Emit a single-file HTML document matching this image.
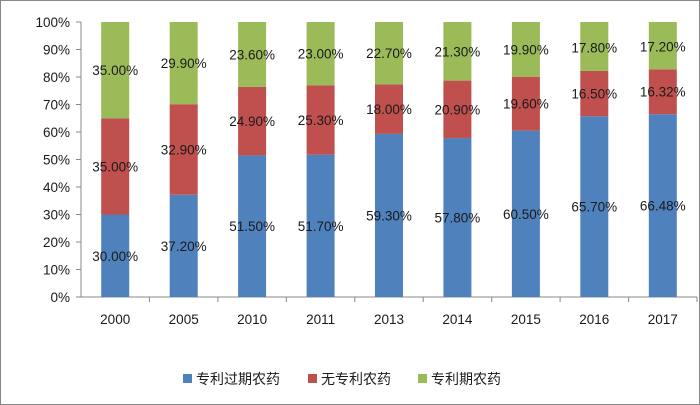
<!DOCTYPE html><html><head><meta charset="utf-8"><style>body{margin:0}svg{display:block}text{font-family:"Liberation Sans","Noto Sans CJK SC",sans-serif;fill:#1a1a1a;font-size:13.5px}</style></head><body>
<svg width="700" height="405" xmlns="http://www.w3.org/2000/svg">
<rect x="0.5" y="0.5" width="699" height="404" fill="#fff" stroke="#888"/>
<g stroke="#888">
<line x1="81" x2="81" y1="22" y2="297"/><line x1="81" x2="697" y1="297" y2="297"/>
<line x1="76" x2="81" y1="297" y2="297"/><line x1="76" x2="81" y1="269.5" y2="269.5"/><line x1="76" x2="81" y1="242" y2="242"/><line x1="76" x2="81" y1="214.5" y2="214.5"/><line x1="76" x2="81" y1="187" y2="187"/><line x1="76" x2="81" y1="159.5" y2="159.5"/><line x1="76" x2="81" y1="132" y2="132"/><line x1="76" x2="81" y1="104.5" y2="104.5"/><line x1="76" x2="81" y1="77" y2="77"/><line x1="76" x2="81" y1="49.5" y2="49.5"/><line x1="76" x2="81" y1="22" y2="22"/>
<line x1="149.4" x2="149.4" y1="297" y2="302"/><line x1="217.9" x2="217.9" y1="297" y2="302"/><line x1="286.3" x2="286.3" y1="297" y2="302"/><line x1="354.8" x2="354.8" y1="297" y2="302"/><line x1="423.2" x2="423.2" y1="297" y2="302"/><line x1="491.7" x2="491.7" y1="297" y2="302"/><line x1="560.1" x2="560.1" y1="297" y2="302"/><line x1="628.6" x2="628.6" y1="297" y2="302"/><line x1="697" x2="697" y1="297" y2="302"/>
</g>
<g text-anchor="end">
<text x="70" y="302">0%</text><text x="70" y="274.5">10%</text><text x="70" y="247">20%</text><text x="70" y="219.5">30%</text><text x="70" y="192">40%</text><text x="70" y="164.5">50%</text><text x="70" y="137">60%</text><text x="70" y="109.5">70%</text><text x="70" y="82">80%</text><text x="70" y="54.5">90%</text><text x="70" y="27">100%</text>
</g>
<g fill="#4F81BD">
<rect x="101.2" y="214.5" width="28" height="82.5"/><rect x="169.7" y="194.7" width="28" height="102.3"/><rect x="238.1" y="155.4" width="28" height="141.6"/><rect x="306.6" y="154.8" width="28" height="142.2"/><rect x="375" y="133.9" width="28" height="163.1"/><rect x="443.4" y="138.05" width="28" height="158.95"/><rect x="511.9" y="130.6" width="28" height="166.4"/><rect x="580.3" y="116.3" width="28" height="180.7"/><rect x="648.8" y="114.2" width="28" height="182.8"/>
</g>
<g fill="#C0504D">
<rect x="101.2" y="118.25" width="28" height="96.25"/><rect x="169.7" y="104.2" width="28" height="90.5"/><rect x="238.1" y="86.9" width="28" height="68.5"/><rect x="306.6" y="85.25" width="28" height="69.55"/><rect x="375" y="84.4" width="28" height="49.5"/><rect x="443.4" y="80.6" width="28" height="57.45"/><rect x="511.9" y="76.7" width="28" height="53.9"/><rect x="580.3" y="70.95" width="28" height="45.35"/><rect x="648.8" y="69.3" width="28" height="44.9"/>
</g>
<g fill="#9BBB59">
<rect x="101.2" y="22" width="28" height="96.25"/><rect x="169.7" y="22" width="28" height="82.2"/><rect x="238.1" y="22" width="28" height="64.9"/><rect x="306.6" y="22" width="28" height="63.25"/><rect x="375" y="22" width="28" height="62.4"/><rect x="443.4" y="22" width="28" height="58.6"/><rect x="511.9" y="22" width="28" height="54.7"/><rect x="580.3" y="22" width="28" height="48.95"/><rect x="648.8" y="22" width="28" height="47.3"/>
</g>
<g text-anchor="middle">
<text x="115.2" y="261">30.00%</text><text x="115.2" y="171.4">35.00%</text><text x="115.2" y="75">35.00%</text>
<text x="183.7" y="250.9">37.20%</text><text x="183.7" y="154.5">32.90%</text><text x="183.7" y="68">29.90%</text>
<text x="252.1" y="231.2">51.50%</text><text x="252.1" y="126.1">24.90%</text><text x="252.1" y="59.5">23.60%</text>
<text x="320.6" y="230.9">51.70%</text><text x="320.6" y="125">25.30%</text><text x="320.6" y="58.6">23.00%</text>
<text x="389" y="220.5">59.30%</text><text x="389" y="114.2">18.00%</text><text x="389" y="58.2">22.70%</text>
<text x="457.4" y="222.5">57.80%</text><text x="457.4" y="114.3">20.90%</text><text x="457.4" y="56.3">21.30%</text>
<text x="525.9" y="218.8">60.50%</text><text x="525.9" y="108.7">19.60%</text><text x="525.9" y="54.4">19.90%</text>
<text x="594.3" y="211.7">65.70%</text><text x="594.3" y="98.6">16.50%</text><text x="594.3" y="52.5">17.80%</text>
<text x="662.8" y="210.6">66.48%</text><text x="662.8" y="96.7">16.32%</text><text x="662.8" y="51.6">17.20%</text>
<text x="115.2" y="324">2000</text><text x="183.7" y="324">2005</text><text x="252.1" y="324">2010</text><text x="320.6" y="324">2011</text><text x="389" y="324">2013</text><text x="457.4" y="324">2014</text><text x="525.9" y="324">2015</text><text x="594.3" y="324">2016</text><text x="662.8" y="324">2017</text>
</g>
<rect x="183" y="374" width="9" height="9" fill="#4F81BD"/><text x="196" y="384" style="font-size:14px">专利过期农药</text>
<rect x="308" y="374" width="9" height="9" fill="#C0504D"/><text x="321" y="384" style="font-size:14px">无专利农药</text>
<rect x="418" y="374" width="9" height="9" fill="#9BBB59"/><text x="431" y="384" style="font-size:14px">专利期农药</text>
</svg></body></html>
